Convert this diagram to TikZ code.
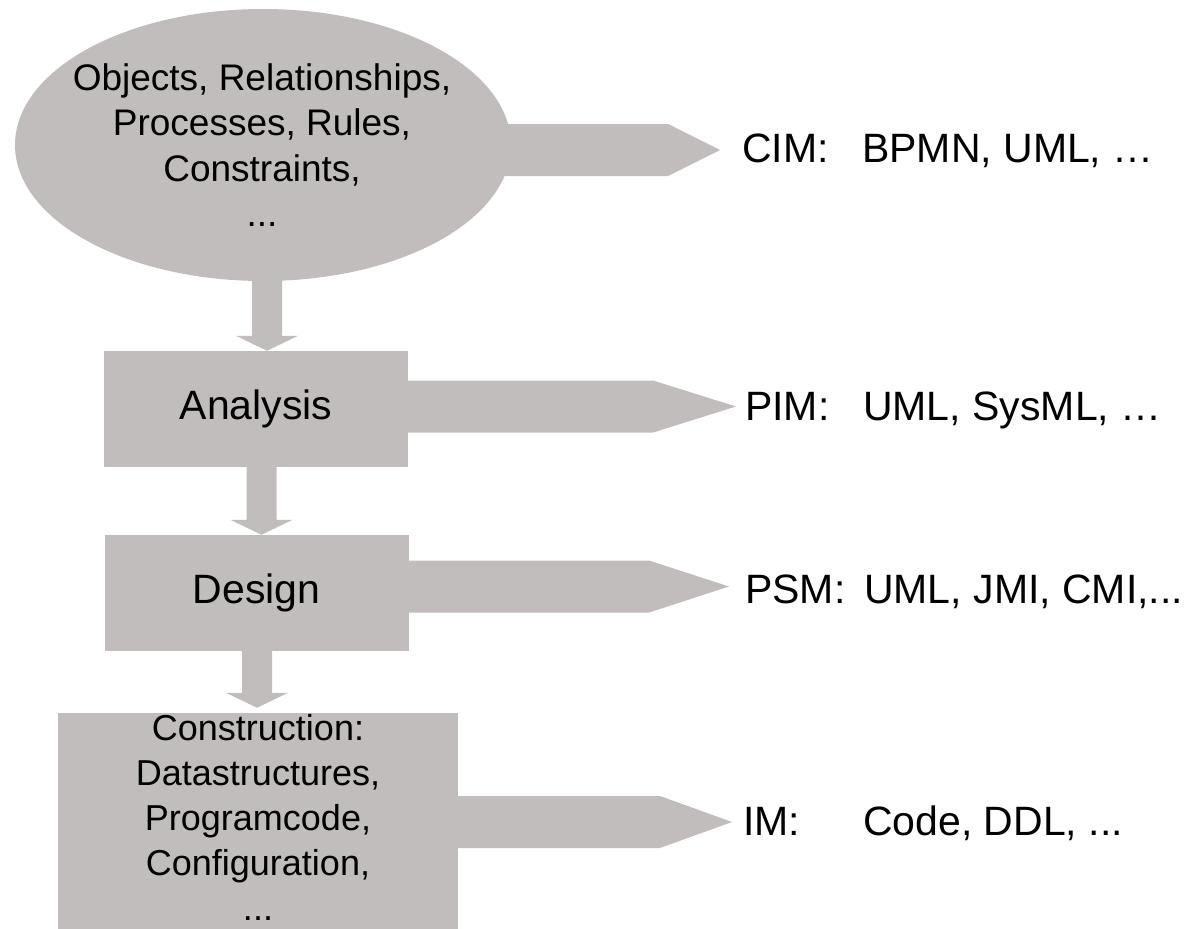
\documentclass[tikz,border=0pt]{standalone}
\usepackage{fontspec}
\setmainfont{Liberation Sans}
\usetikzlibrary{calc,shapes.geometric,positioning}
\definecolor{boxgray}{RGB}{192,189,188}
\newcommand{\stagefont}{\fontsize{41}{49}\selectfont}
\newcommand{\notefont}{\fontsize{37}{45.5}\selectfont}
\newcommand{\codefont}{\fontsize{36}{45}\selectfont}
% #1 start, #2 tip, #3 head length
\newcommand{\sidearrow}[3]{%
  \fill[boxgray] ($(#1)+(0,-26)$) -- ($(#2)+(-#3,-26)$) -- (#2)
    -- ($(#2)+(-#3,26)$) -- ($(#1)+(0,26)$) -- cycle;}
% #1 start, #2 tip
\newcommand{\stagearrow}[2]{%
  \fill[boxgray] ($(#1)+(-15,0)$) -- ($(#2)+(-15,-15)$) -- ($(#2)+(-31,-15)$)
    -- (#2) -- ($(#2)+(31,-15)$) -- ($(#2)+(15,-15)$) -- ($(#1)+(15,0)$) -- cycle;}

\begin{document}
\begin{tikzpicture}[x=1pt,y=-1pt,
    stage/.style={rectangle, fill=boxgray, inner sep=0pt, align=center},
    blob/.style={ellipse, fill=boxgray, inner sep=0pt,
                 minimum width=496pt, minimum height=272pt},
    model/.style={anchor=base west, inner sep=0pt, font=\stagefont}]

    \useasboundingbox (0,0) rectangle (1200,929);

    \node[blob] (objs) at (263,145) {};
    \node[stage, fill=none, anchor=north, font=\notefont] (objtext) at (262,63)
        {Objects, Relationships,\\Processes, Rules,\\Constraints,\\...};

    \node[stage, minimum width=304pt, minimum height=116pt, font=\stagefont]
        (ana) at (256,409) {Analysis};
    \node[stage, minimum width=304pt, minimum height=116pt, font=\stagefont]
        (des) at (256.5,593) {Design};
    \node[stage, minimum width=400pt, minimum height=216pt] (con) at (258,821) {};
    \node[stage, fill=none, font=\codefont] (context) at ($(con.center)+(0,-4)$)
        {Construction:\\Datastructures,\\Programcode,\\Configuration,\\...};

    % model levels
    \node[model] (cim) at (742,162) {\makebox[120pt][l]{CIM:}BPMN, UML, …};
    \node[model] (pim) at (745,420) {\makebox[118pt][l]{PIM:}UML, SysML, …};
    \node[model] (psm) at (745,603) {\makebox[119pt][l]{PSM:}UML, JMI, CMI,...};
    \node[model] (im)  at (743,835) {\makebox[120pt][l]{IM:}Code, DDL, ...};

    \coordinate (c0) at (720,150);
    \coordinate (c1) at (736,406.5);
    \coordinate (c2) at (729,586.5);
    \coordinate (c3) at (732,822);

    \sidearrow{$(objs.east |- c0)+(-12,0)$}{c0}{52}
    \sidearrow{ana.east |- c1}{c1}{83}
    \sidearrow{des.east |- c2}{c2}{80}
    \sidearrow{con.east |- c3}{c3}{72}

    \coordinate (d1) at ($(ana.north)+(11,0)$);
    \coordinate (d2) at ($(des.north)+(5,0)$);
    \coordinate (d3) at ($(con.north)+(-1,-5)$);

    \stagearrow{$(objs.south -| d1)+(0,-6)$}{d1}
    \stagearrow{ana.south -| d2}{d2}
    \stagearrow{des.south -| d3}{d3}

\end{tikzpicture}
\end{document}
